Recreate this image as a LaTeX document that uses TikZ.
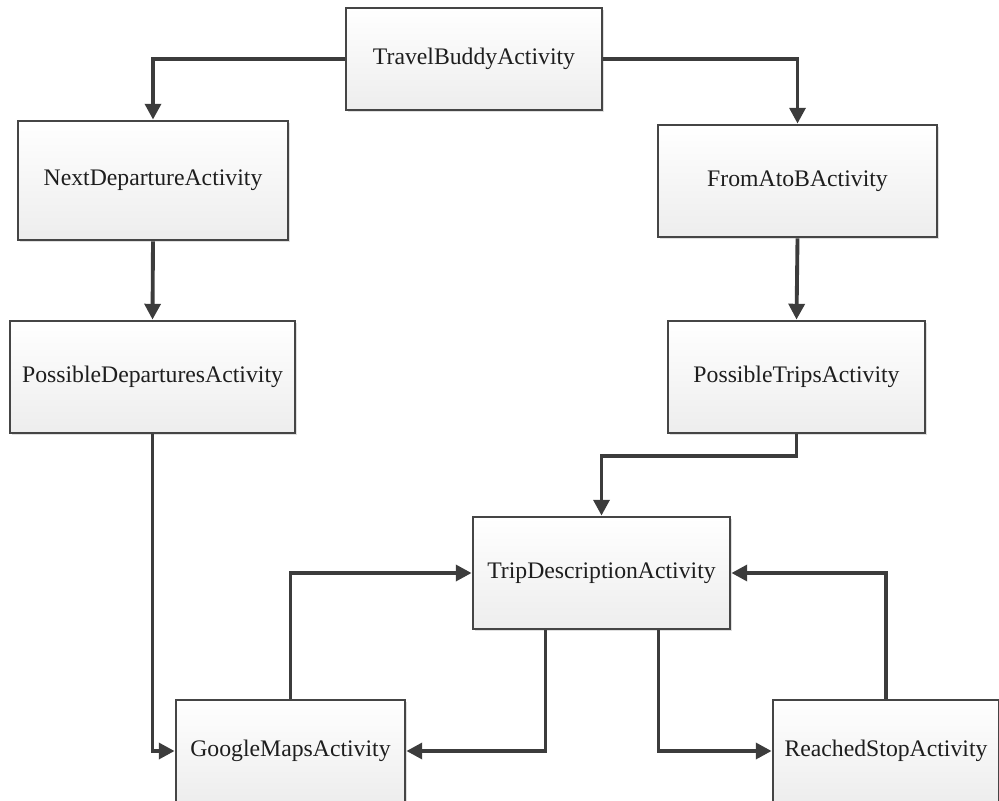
\documentclass[tikz,border=0pt]{standalone}
\usepackage{fontspec}
\setmainfont{Liberation Serif}
\usepackage{tikz}
\usetikzlibrary{arrows.meta,shadows}
\definecolor{edgegray}{HTML}{454545}
\definecolor{linegray}{HTML}{3C3C3C}
\definecolor{textgray}{HTML}{1E1E1E}

\begin{document}
\begin{tikzpicture}[x=0.02cm, y=-0.02cm,
  activity/.style={draw=edgegray, line width=1.6pt, rectangle, top color=white, bottom color=gray!14,
    drop shadow={opacity=0.25, shadow xshift=1.2pt, shadow yshift=-1.2pt},
    text=textgray, font=\fontsize{13.5}{16}\selectfont, inner sep=0pt},
  flow/.style={draw=linegray, line width=2.2pt, -{Triangle[length=9pt,width=9pt]}}]
\useasboundingbox (0,0) rectangle (999,800);
\clip (0,0) rectangle (999,800);

\node[activity, minimum width=5.12cm, minimum height=2.04cm] (travel) at (474,59) {TravelBuddyActivity};
\node[activity, minimum width=5.4cm, minimum height=2.38cm] (next) at (153,180.5) {NextDepartureActivity};
\node[activity, minimum width=5.58cm, minimum height=2.24cm] (fromab) at (797.5,181) {FromAtoBActivity};
\node[activity, minimum width=5.7cm, minimum height=2.24cm] (posdep) at (152.5,377) {PossibleDeparturesActivity};
\node[activity, minimum width=5.14cm, minimum height=2.24cm] (postrips) at (796.5,377) {PossibleTripsActivity};
\node[activity, minimum width=5.14cm, minimum height=2.24cm] (tripdesc) at (601.5,573) {TripDescriptionActivity};
\node[activity, minimum width=4.58cm, minimum height=2.04cm] (gmaps) at (290.5,751) {GoogleMapsActivity};
\node[activity, minimum width=4.52cm, minimum height=2.04cm] (reached) at (886,751) {ReachedStopActivity};

\draw[flow] (travel.west) -| (next.north);
\draw[flow] (travel.east) -| (fromab.north);
\draw[flow] (next.south) -- (posdep.north);
\draw[flow] (fromab.south) -- (postrips.north);
\draw[flow] (posdep.south) |- (gmaps.west);
\draw[flow] (postrips.south) -- ++(0,22) -| (tripdesc.north);
\draw[flow] (gmaps.north) |- (tripdesc.west);
\draw[flow] ([xshift=-1.12cm]tripdesc.south) |- (gmaps.east);
\draw[flow] ([xshift=1.14cm]tripdesc.south) |- (reached.west);
\draw[flow] (reached.north) |- (tripdesc.east);
\end{tikzpicture}
\end{document}
